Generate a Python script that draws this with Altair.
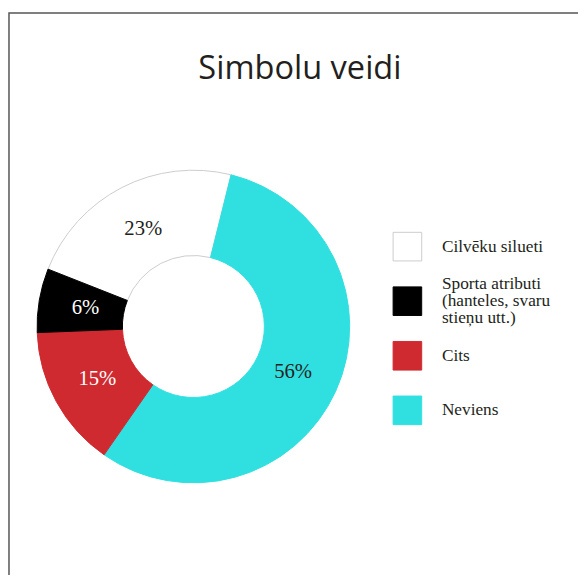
import altair as alt
import pandas as pd

# slices, in clockwise drawing order starting from the white slice
categories = ["Cilvēku silueti", "Neviens", "Cits", "Sporta atributi (hanteles, svaru stieņu utt.)"]
values = [22.9, 55.8, 14.7, 6.6]
labels = ["23%", "56%", "15%", "6%"]
fills = ["#ffffff", "#30e0e0", "#cf2a30", "#000000"]
strokes = ["#cccccc", "#30e0e0", "#cf2a30", "#000000"]
text_colors = ["#231f20", "#231f20", "#ffffff", "#ffffff"]

legend_order = ["Cilvēku silueti", "Sporta atributi (hanteles, svaru stieņu utt.)", "Cits", "Neviens"]
legend_text = ["Cilvēku silueti", "Sporta atributi\n(hanteles, svaru\nstieņu utt.)", "Cits", "Neviens"]

df = pd.DataFrame({
    "cat": categories,
    "val": values,
    "lab": labels,
    "ord": list(range(len(categories))),
    "tc": text_colors,
})
leg = pd.DataFrame({"cat": legend_order, "txt": legend_text})

fill_map = dict(zip(categories, fills))
stroke_map = dict(zip(categories, strokes))
fill_scale = alt.Scale(domain=legend_order, range=[fill_map[c] for c in legend_order])
stroke_scale = alt.Scale(domain=legend_order, range=[stroke_map[c] for c in legend_order])

start = 5.088
theta_scale = alt.Scale(range=[start, start + 2 * 3.14159265])

CX, CY = 187, 318

arcs = alt.Chart(df).mark_arc(outerRadius=158.5, innerRadius=72, strokeWidth=1).encode(
    theta=alt.Theta("val:Q", stack=True, scale=theta_scale),
    order=alt.Order("ord:Q"),
    fill=alt.Fill("cat:N", scale=fill_scale, legend=None),
    stroke=alt.Stroke("cat:N", scale=stroke_scale, legend=None),
    x=alt.value(CX),
    y=alt.value(CY),
)

texts = alt.Chart(df).mark_text(radius=111, font="Liberation Serif", fontSize=21).encode(
    theta=alt.Theta("val:Q", stack=True, scale=theta_scale),
    order=alt.Order("ord:Q"),
    text="lab:N",
    color=alt.Color("tc:N", scale=None),
    x=alt.value(CX),
    y=alt.value(CY),
)

ypos = alt.Scale(type="point", domain=legend_order, range=[237, 403], padding=0)

swatches = alt.Chart(leg).mark_square(size=841, strokeWidth=1, opacity=1).encode(
    x=alt.value(404),
    y=alt.Y("cat:N", scale=ypos, axis=None),
    fill=alt.Fill("cat:N", scale=fill_scale, legend=None),
    stroke=alt.Stroke("cat:N", scale=stroke_scale, legend=None),
)

leg_labels = alt.Chart(leg).transform_calculate(
    off="-(length(split(datum.txt, '\\n')) - 1) * 17.5 / 2"
).mark_text(align="left", baseline="middle", font="Liberation Serif", fontSize=17.5,
            lineHeight=17.5, lineBreak="\n", color="#231f20").encode(
    x=alt.value(439),
    y=alt.Y("cat:N", scale=ypos, axis=None),
    yOffset=alt.YOffset("off:Q", scale=None),
    text="txt:N",
)

chart = alt.layer(arcs, texts, swatches, leg_labels).properties(
    width=582,
    height=576,
    padding={"left": 1, "top": 1, "right": -5, "bottom": -10},
    autosize=alt.AutoSizeParams(type="none"),
    title=alt.TitleParams("Simbolu veidi", font="Open Sans", fontSize=33, fontWeight="normal",
                          color="#231f20", anchor="middle", baseline="alphabetic", dy=104, dx=4),
).configure(background="white").configure_view(stroke="#555555", strokeWidth=1.5)

chart.save("out.html", embed_options={"renderer": "svg", "actions": False})
